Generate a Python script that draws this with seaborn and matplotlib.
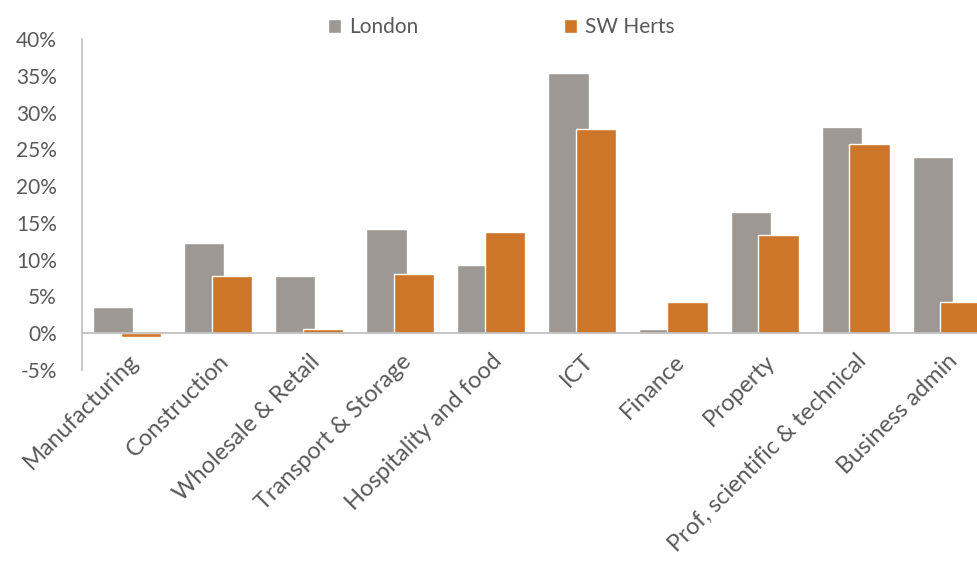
import matplotlib
matplotlib.use("Agg")
import matplotlib.pyplot as plt
import matplotlib.ticker as mticker
import pandas as pd
import seaborn as sns

SECTORS = [
    "Manufacturing",
    "Construction",
    "Wholesale & Retail",
    "Transport & Storage",
    "Hospitality and food",
    "ICT",
    "Finance",
    "Property",
    "Prof, scientific & technical",
    "Business admin",
]
LONDON = [3.5, 12.2, 7.8, 14.2, 9.2, 35.4, 0.5, 16.5, 28.0, 24.0]
SW_HERTS = [-0.5, 7.8, 0.6, 8.0, 13.7, 27.7, 4.3, 13.4, 25.7, 4.3]
AREAS = ["London", "SW Herts"]
COLORS = {"London": "#9d9894", "SW Herts": "#cd7528"}

TEXT = "#595959"

df = pd.DataFrame({
    "sector": SECTORS * 2,
    "area": [AREAS[0]] * len(SECTORS) + [AREAS[1]] * len(SECTORS),
    "value": LONDON + SW_HERTS,
})

sns.set_style("white")
plt.rcParams["font.family"] = ["Lato", "DejaVu Sans"]

fig = plt.figure(figsize=(9.77, 5.63), dpi=100)
ax = fig.add_axes([0.0839, 0.343, 1 - 0.0839, 0.9307 - 0.343])

sns.barplot(data=df, x="sector", y="value", hue="area", palette=COLORS,
            order=SECTORS, hue_order=AREAS, width=0.615, gap=-0.43,
            saturation=1, ax=ax)

handles, labels = ax.get_legend_handles_labels()
ax.get_legend().remove()
fig.legend(handles, labels, loc="center", bbox_to_anchor=(501 / 977, 1 - 27 / 563),
           ncol=2, frameon=False, fontsize=15, labelcolor=TEXT,
           handlelength=0.65, handleheight=0.65, handletextpad=0.35,
           columnspacing=7.0)

ax.set_ylim(-5, 40)
ax.set_xlim(-0.5, 9.335)
ax.yaxis.set_major_locator(mticker.MultipleLocator(5))
ax.yaxis.set_major_formatter(mticker.FuncFormatter(lambda v, p: f"{v:.0f}%"))
ax.axhline(0, color="#c0c0c0", lw=1.3, zorder=1)

for s in ["top", "right", "bottom"]:
    ax.spines[s].set_visible(False)
ax.spines["left"].set_color("#c0c0c0")
ax.spines["left"].set_linewidth(1.2)

ax.set_xlabel("")
ax.set_ylabel("")
ax.tick_params(axis="y", length=0, pad=18, labelsize=15, labelcolor=TEXT)
ax.tick_params(axis="x", length=0, pad=-14, labelsize=17, labelcolor=TEXT)
plt.setp(ax.get_xticklabels(), rotation=45, ha="right", rotation_mode="anchor")

fig.savefig("out.png", dpi=100)
